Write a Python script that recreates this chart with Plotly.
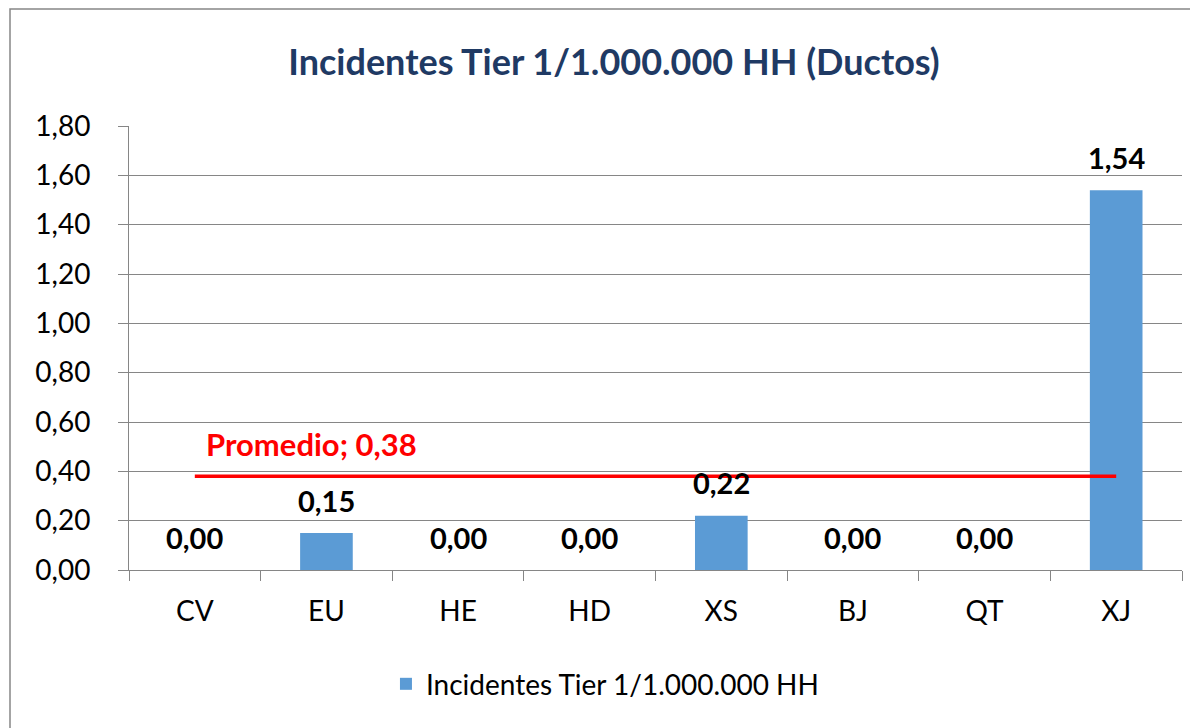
import plotly.graph_objects as go

categories = ["CV", "EU", "HE", "HD", "XS", "BJ", "QT", "XJ"]
values = [0.00, 0.15, 0.00, 0.00, 0.22, 0.00, 0.00, 1.54]
average = 0.38
series_name = "Incidentes Tier 1/1.000.000 HH"
title_text = "Incidentes Tier 1/1.000.000 HH (Ductos)"
avg_label = "Promedio; 0,38"
y_ticks = [0, 0.2, 0.4, 0.6, 0.8, 1.0, 1.2, 1.4, 1.6, 1.8]

FONT = "Lato"
GRAY = "#868686"

# page has an 8px body margin: figure is laid out in its own coordinates
W, H = 1190, 720
L, T = 121, 118
PW, PH = 1053, 444

fig = go.Figure()
fig.add_trace(go.Bar(
    x=categories, y=values, name=series_name,
    marker=dict(color="#5B9BD5", line=dict(width=0)),
    width=0.4,
))
fig.add_trace(go.Scatter(
    x=categories, y=[average] * len(categories), mode="lines",
    line=dict(color="#FF0000", width=3.5), showlegend=False, hoverinfo="skip",
))

annotations = []
for c, v in zip(categories, values):
    annotations.append(dict(
        x=c, y=v, xref="x", yref="y", text=f"<b>{v:.2f}</b>".replace(".", ","),
        showarrow=False, yanchor="middle", yshift=33,
        font=dict(family=FONT, size=29, color="#000000"),
    ))
annotations.append(dict(
    x=categories[0], y=average, xref="x", yref="y", text=f"<b>{avg_label}</b>",
    showarrow=False, xanchor="left", yanchor="middle", xshift=9, yshift=32,
    font=dict(family=FONT, size=31, color="#FF0000"),
))

fig.update_layout(
    width=W, height=H,
    margin=dict(l=L, r=W - L - PW, t=T, b=H - T - PH, pad=0),
    paper_bgcolor="white", plot_bgcolor="white",
    separators=",.",
    title=dict(text=f"<b>{title_text}</b>", x=606 / W, xanchor="center",
               y=1 - 54 / H, yanchor="middle", yref="container",
               font=dict(family=FONT, size=36, color="#1F3A64")),
    font=dict(family=FONT, size=28, color="#000000"),
    showlegend=True,
    legend=dict(orientation="h", x=0.452, xanchor="center", y=-0.257, yanchor="middle",
                font=dict(family=FONT, size=28, color="#000000"),
                itemwidth=30),
    annotations=annotations,
    bargap=0.6,
    shapes=[dict(type="rect", xref="paper", yref="paper",
                 x0=(2 - L) / PW, x1=(W + 20 - L) / PW,
                 y0=(T + PH - (H + 20)) / PH, y1=(T + PH - 1) / PH,
                 line=dict(color=GRAY, width=1.5), layer="below")],
)
fig.update_xaxes(
    showline=True, linecolor=GRAY, linewidth=1,
    ticks="outside", ticklen=10, tickcolor=GRAY,
    tickson="boundaries", showgrid=False,
    ticklabelstandoff=16,
    tickfont=dict(family=FONT, size=28, color="#000000"),
    range=[-0.5, len(categories) - 0.5],
)
fig.update_yaxes(
    range=[0, 1.8], tickvals=y_ticks, tickformat=".2f",
    showline=True, linecolor=GRAY, linewidth=1,
    ticks="outside", ticklen=10, tickcolor=GRAY,
    showgrid=True, gridcolor=GRAY, gridwidth=1,
    zeroline=False,
    ticklabelstandoff=22,
    tickfont=dict(family=FONT, size=28, color="#000000"),
)

fig.write_html("out.html")
